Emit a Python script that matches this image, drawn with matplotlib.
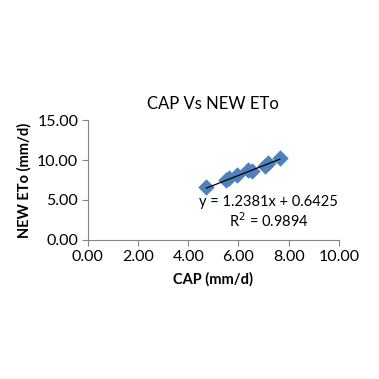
import numpy as np
import matplotlib
matplotlib.use("Agg")
import matplotlib.pyplot as plt

plt.rcParams['font.family'] = ['Lato', 'DejaVu Sans']

# data
cap = [4.72, 5.49, 5.63, 5.96, 6.39, 6.52, 7.05, 7.19, 7.65]
new_eto = [6.66, 7.5, 7.7, 8.1, 8.8, 8.6, 9.25, 9.66, 10.2]
slope = 1.2381
intercept = 0.6425
r2 = 0.9894
x_ticks = [0, 2, 4, 6, 8, 10]
y_ticks = [0, 5, 10, 15]

fig = plt.figure(figsize=(3.79, 3.79), dpi=100)
ax = fig.add_axes([0.232, 0.367, 0.662, 0.316])

ax.scatter(cap, new_eto, marker='D', s=70, color='#4F81BD', zorder=3, linewidths=0)

# linear trendline
xt = np.array([min(cap), max(cap)])
ax.plot(xt, slope * xt + intercept, color='black', linewidth=0.9, zorder=4)

ax.set_xlim(0, 10)
ax.set_ylim(0, 15)
ax.set_xticks(x_ticks)
ax.set_yticks(y_ticks)
ax.set_xticklabels([f"{v:.2f}" for v in x_ticks])
ax.set_yticklabels([f"{v:.2f}" for v in y_ticks])
ax.tick_params(labelsize=11.5, length=4, color='#868686', direction='out', pad=3)

for s in ['top', 'right']:
    ax.spines[s].set_visible(False)
for s in ['left', 'bottom']:
    ax.spines[s].set_color('#868686')

ax.set_title("CAP Vs NEW ETo", fontsize=12, pad=8)
ax.set_xlabel("CAP (mm/d)", fontsize=10.5, fontweight='bold', labelpad=6)
ax.set_ylabel("NEW ETo (mm/d)", fontsize=10.5, fontweight='bold', labelpad=4)

ax.text(7.2, 4.8, f"y = {slope}x + {intercept}", fontsize=10.5, ha='center', va='center')
ax.text(7.2, 2.35, f"R$^2$ = {r2}", fontsize=10.5, ha='center', va='center')

fig.savefig("out.png", dpi=100)
